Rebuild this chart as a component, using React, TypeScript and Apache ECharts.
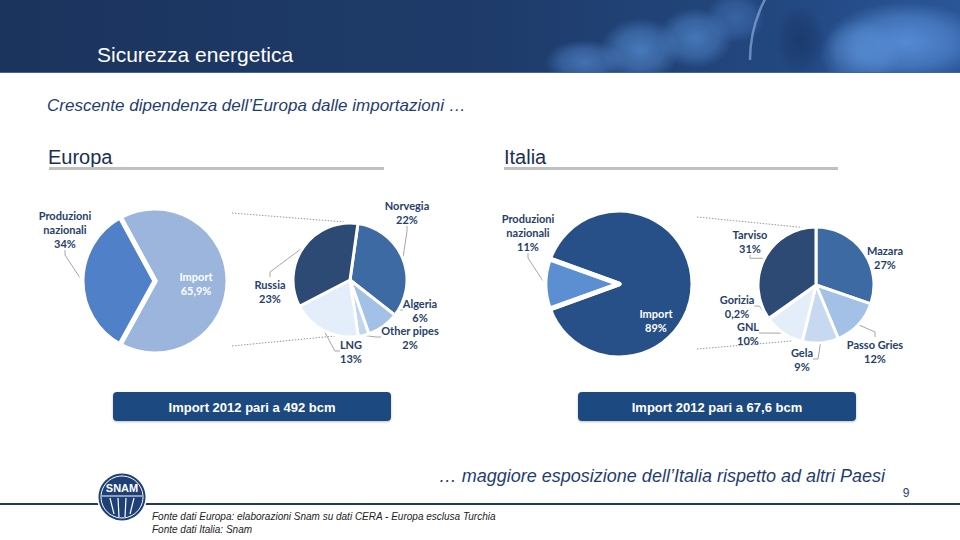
import React, { useEffect, useRef } from "react";
import * as echarts from "echarts";

// ---- Data ----
const euMainNames = ["Import", "Produzioni\nnazionali"];
const euMainValues = [65.9, 34];
const euSubNames = ["Norvegia", "Algeria", "Other pipes", "LNG", "Russia"];
const euSubValues = [22, 6, 2, 13, 23];
const itMainNames = ["Import", "Produzioni\nnazionali"];
const itMainValues = [89, 11];
const itSubNames = ["Mazara", "Passo Gries", "Gela", "GNL", "Gorizia", "Tarviso"];
const itSubValues = [27, 12, 9, 10, 0.2, 31];

const euTotal = "Import 2012 pari a 492 bcm";
const itTotal = "Import 2012 pari a 67,6 bcm";

// ---- Styles ----
const euMainColors = ["#9bb5dd", "#5081c8"];
const euSubColors = ["#3e6aa3", "#a3c0e6", "#c0d5ef", "#e4eefa", "#2c4a74"];
const itMainColors = ["#275088", "#5b8fd2"];
const itSubColors = ["#3e6aa3", "#a3c0e6", "#c6d9f1", "#e4eefa", "#c6d9f1", "#2c4a74"];

// label anchor positions (layout only)
const euMainLabelPos: Record<number, [number, number]> = { 0: [196, 283], 1: [65, 229] };
const euSubLabelPos: Record<number, [number, number]> = {
  0: [407, 212], 1: [420, 310], 2: [410, 337], 3: [351, 351], 4: [270, 291],
};
const itMainLabelPos: Record<number, [number, number]> = { 0: [656, 320], 1: [528, 232] };
const itSubLabelPos: Record<number, [number, number]> = {
  0: [885, 257], 1: [875, 351], 2: [802, 359], 3: [748, 333], 4: [737, 306], 5: [750, 241],
};

const NAVY_TXT = "#27406a";
const fmtPct = (v: number) => String(v).replace(".", ",") + "%";

const baseLabel = {
  fontFamily: "Lato",
  fontWeight: "bold" as const,
  fontSize: 11,
  color: NAVY_TXT,
  lineHeight: 14,
  align: "center" as const,
  formatter: (p: any) => p.name + "\n" + fmtPct(p.value),
};

function makeLayout(pos: Record<number, [number, number]>) {
  return (params: any) => {
    const pt = pos[params.dataIndex];
    if (!pt) return {};
    return { x: pt[0], y: pt[1], align: "center", verticalAlign: "middle" };
  };
}

function pieSeries(
  names: string[],
  values: number[],
  colors: string[],
  center: [number, number],
  radius: number,
  startAngle: number,
  pos: Record<number, [number, number]>,
  insideIdx: number | null,
  border: number
) {
  return {
    type: "pie",
    center,
    radius,
    startAngle,
    clockwise: true,
    avoidLabelOverlap: false,
    emphasis: { disabled: true },
    itemStyle: { borderColor: "#ffffff", borderWidth: border },
    label: { ...baseLabel, position: "outside" },
    labelLine: { show: true, length: 5, length2: 5, lineStyle: { color: "#a6a6a6", width: 1 } },
    labelLayout: makeLayout(pos),
    data: names.map((n, i) => ({
      name: n,
      value: values[i],
      itemStyle: { color: colors[i] },
      ...(i === insideIdx
        ? { label: { position: "inside", color: "#ffffff" }, labelLine: { show: false } }
        : {}),
    })),
  };
}

function glow(cx: number, cy: number, rx: number, ry: number, color: string, a: number) {
  return {
    type: "ellipse",
    shape: { cx, cy, rx, ry },
    style: {
      fill: new echarts.graphic.RadialGradient(0.5, 0.5, 0.5, [
        { offset: 0, color: `rgba(${color},${a})` },
        { offset: 0.6, color: `rgba(${color},${a * 0.6})` },
        { offset: 1, color: `rgba(${color},0)` },
      ]),
    },
    z: 1,
  };
}

export default function App() {
  const ref = useRef<HTMLDivElement>(null);
  useEffect(() => {
    if (!ref.current) return;
    const chart = echarts.init(ref.current, undefined, { renderer: "svg", width: 960, height: 540 });
    const dotted = (x1: number, y1: number, x2: number, y2: number) => ({
      type: "line",
      shape: { x1, y1, x2, y2 },
      style: { stroke: "#9a9a9a", lineWidth: 1, lineDash: [1.5, 1.5] },
    });
    const option: any = {
      animation: false,
      backgroundColor: "#ffffff",
      graphic: [
        // header band
        {
          type: "rect",
          shape: { x: 0, y: 0, width: 960, height: 73 },
          style: {
            fill: new echarts.graphic.LinearGradient(0, 0, 1, 0, [
              { offset: 0, color: "#1b345e" },
              { offset: 0.5, color: "#1e3b69" },
              { offset: 0.8, color: "#22477f" },
              { offset: 1, color: "#2a5597" },
            ]),
          },
          z: 0,
        },
        {
          type: "group",
          clipPath: { type: "rect", shape: { x: 0, y: 0, width: 960, height: 73 } },
          children: [
            glow(585, 62, 40, 22, "80,130,200", 0.75),
            glow(640, 50, 40, 32, "85,140,210", 0.75),
            glow(695, 38, 38, 30, "85,140,210", 0.7),
            glow(735, 18, 30, 25, "75,125,195", 0.55),
            glow(905, 42, 80, 40, "90,145,220", 0.9),
            glow(860, 55, 40, 35, "95,150,220", 0.6),
            glow(800, 40, 25, 35, "20,45,90", 0.5),
            {
              type: "arc",
              shape: { cx: 880, cy: 60, r: 130, startAngle: Math.PI * 1.0, endAngle: Math.PI * 1.25 },
              style: { stroke: "rgba(150,185,230,0.6)", lineWidth: 2.5, fill: "none" },
              z: 2,
            },
          ],
        },
        { type: "rect", shape: { x: 0, y: 72, width: 960, height: 1 }, style: { fill: "#45659a" }, z: 2 },
        { type: "text", x: 97, y: 54, style: { text: "Sicurezza energetica", fill: "#ffffff", fontSize: 21, fontFamily: "Liberation Sans", verticalAlign: "middle" }, z: 3 },
        // subtitle
        { type: "text", x: 47, y: 105, style: { text: "Crescente dipendenza dell\u2019Europa dalle importazioni \u2026", fill: "#1f3d73", fontSize: 17, fontStyle: "italic", fontFamily: "Liberation Sans", verticalAlign: "middle" } },
        // section headings
        { type: "text", x: 48, y: 157, style: { text: "Europa", fill: "#1b2f54", fontSize: 20, fontFamily: "Liberation Sans", verticalAlign: "middle" } },
        { type: "rect", shape: { x: 49, y: 167, width: 335, height: 3 }, style: { fill: "#c0c0c0" } },
        { type: "text", x: 504, y: 157, style: { text: "Italia", fill: "#1b2f54", fontSize: 20, fontFamily: "Liberation Sans", verticalAlign: "middle" } },
        { type: "rect", shape: { x: 504, y: 167, width: 334, height: 3 }, style: { fill: "#c0c0c0" } },
        // connector lines
        dotted(232, 213, 345, 222),
        dotted(232, 346, 345, 335),
        dotted(697, 217, 808, 228),
        dotted(697, 349, 792, 341),
        // buttons
        { type: "rect", shape: { x: 113, y: 392, width: 278, height: 29, r: 4 }, style: { fill: "#1f4a7f", shadowBlur: 2, shadowColor: "rgba(0,0,0,0.25)", shadowOffsetY: 1 } },
        { type: "text", x: 252, y: 407, style: { text: euTotal, fill: "#ffffff", fontSize: 13, fontWeight: "bold", fontFamily: "Liberation Sans", align: "center", verticalAlign: "middle" } },
        { type: "rect", shape: { x: 578, y: 392, width: 278, height: 29, r: 4 }, style: { fill: "#1f4a7f", shadowBlur: 2, shadowColor: "rgba(0,0,0,0.25)", shadowOffsetY: 1 } },
        { type: "text", x: 717, y: 407, style: { text: itTotal, fill: "#ffffff", fontSize: 13, fontWeight: "bold", fontFamily: "Liberation Sans", align: "center", verticalAlign: "middle" } },
        // bottom statement
        { type: "text", x: 885, y: 476, style: { text: "\u2026 maggiore esposizione dell\u2019Italia rispetto ad altri Paesi", fill: "#1f3d73", fontSize: 18, fontStyle: "italic", fontFamily: "Liberation Sans", align: "right", verticalAlign: "middle" } },
        { type: "text", x: 906, y: 493, style: { text: "9", fill: "#1f3d73", fontSize: 12, fontFamily: "Liberation Sans", align: "center", verticalAlign: "middle" } },
        // footer line
        { type: "rect", shape: { x: 0, y: 503, width: 960, height: 2 }, style: { fill: "#1f3864" } },
        // logo
        { type: "circle", shape: { cx: 122, cy: 497, r: 25 }, style: { fill: "#ffffff" }, z: 5 },
        { type: "circle", shape: { cx: 122, cy: 497, r: 23.5 }, style: { fill: "#1f3f77" }, z: 5 },
        { type: "circle", shape: { cx: 122, cy: 497, r: 21 }, style: { fill: "none", stroke: "#ffffff", lineWidth: 1 }, z: 6 },
        { type: "text", x: 122, y: 488, style: { text: "SNAM", fill: "#ffffff", fontSize: 11, fontWeight: "bold", fontFamily: "Liberation Sans", align: "center", verticalAlign: "middle" }, z: 7 },
        { type: "line", shape: { x1: 102, y1: 496, x2: 142, y2: 496 }, style: { stroke: "#ffffff", lineWidth: 1.2 }, z: 7 },
        { type: "line", shape: { x1: 110, y1: 498, x2: 114, y2: 514 }, style: { stroke: "#ffffff", lineWidth: 1.2 }, z: 7 },
        { type: "line", shape: { x1: 118, y1: 498, x2: 119, y2: 517 }, style: { stroke: "#ffffff", lineWidth: 1.2 }, z: 7 },
        { type: "line", shape: { x1: 126, y1: 498, x2: 125, y2: 517 }, style: { stroke: "#ffffff", lineWidth: 1.2 }, z: 7 },
        { type: "line", shape: { x1: 134, y1: 498, x2: 130, y2: 514 }, style: { stroke: "#ffffff", lineWidth: 1.2 }, z: 7 },
        // footnotes
        { type: "text", x: 152, y: 516, style: { text: "Fonte dati Europa: elaborazioni Snam su dati CERA - Europa esclusa Turchia", fill: "#222222", fontSize: 10, fontStyle: "italic", fontFamily: "Liberation Sans", verticalAlign: "middle" } },
        { type: "text", x: 152, y: 529, style: { text: "Fonte dati Italia: Snam", fill: "#222222", fontSize: 10, fontStyle: "italic", fontFamily: "Liberation Sans", verticalAlign: "middle" } },
      ],
      series: [
        pieSeries(euMainNames, euMainValues, euMainColors, [155, 281], 73, 118.6, euMainLabelPos, 0, 5),
        pieSeries(euSubNames, euSubValues, euSubColors, [350, 280], 57, 82, euSubLabelPos, null, 3),
        pieSeries(itMainNames, itMainValues, itMainColors, [619, 284], 74, 160.2, itMainLabelPos, 0, 5),
        pieSeries(itSubNames, itSubValues, itSubColors, [816, 285], 58, 90, itSubLabelPos, null, 3),
      ],
    };
    chart.setOption(option);
    return () => chart.dispose();
  }, []);
  return (
    <div
      ref={ref}
      style={{ position: "absolute", left: 0, top: 0, width: 960, height: 540 }}
    />
  );
}
